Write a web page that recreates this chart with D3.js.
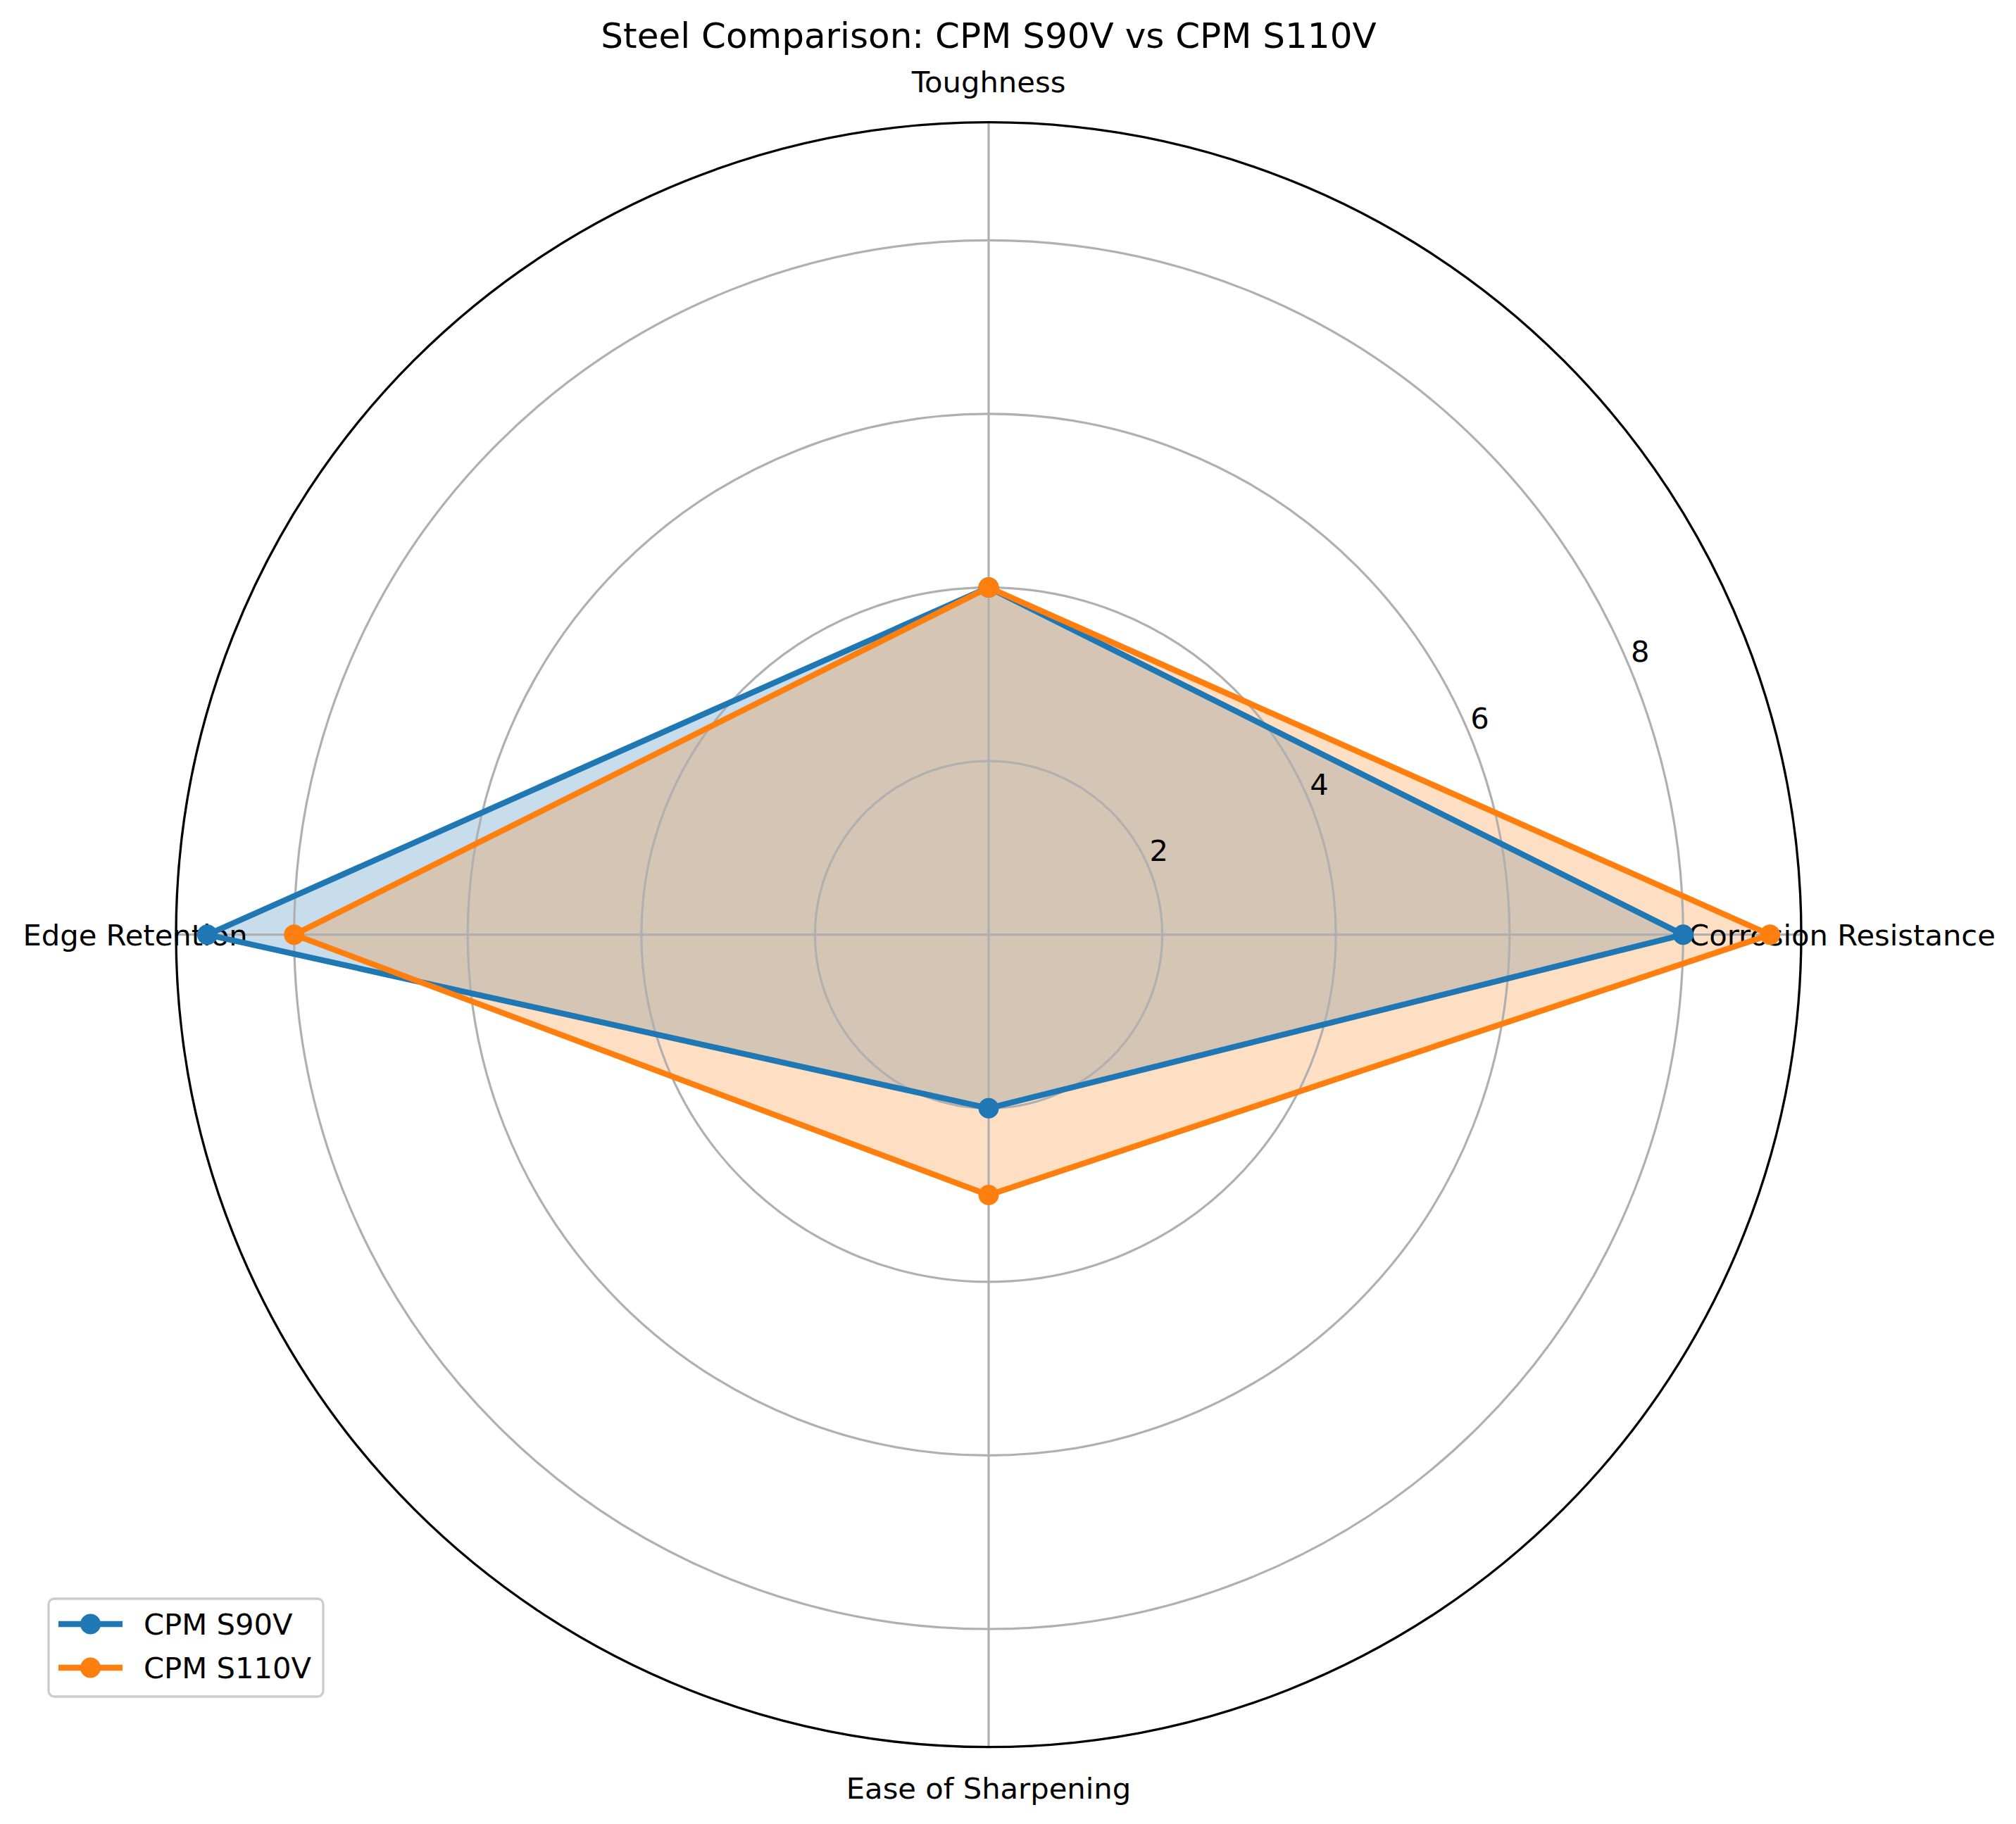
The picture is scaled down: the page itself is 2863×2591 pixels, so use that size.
<!DOCTYPE html>
<html>
<head>
<meta charset="utf-8">
<script src="https://cdn.jsdelivr.net/npm/d3@7"></script>
<style>
  body { margin: 0; background: #fff; }
  text { font-family: "DejaVu Sans", sans-serif; }
</style>
</head>
<body>
<div id="chart"></div>
<script>
(function(){
const categories = ["Toughness", "Corrosion Resistance", "Ease of Sharpening", "Edge Retention"];
const seriesNames = ["CPM S90V", "CPM S110V"];
const s90v = [4, 8, 2, 9];
const s110v = [4, 9, 3, 8];
const radialTicks = [2, 4, 6, 8];
const colors = ["#1f77b4", "#ff7f0e"];

const width = 2863;
const height = 2591;
const cx = 1404, cy = 1327.7;
const outerR = 1154;

const svg = d3.select("#chart")
  .append("svg")
  .attr("width", width)
  .attr("height", height);

// radial scale, matplotlib autoscale gives ~9.36 as the top
const r = d3.scaleLinear().domain([0, 9.36]).range([0, outerR]);
const angle = d3.scaleLinear().domain([0, categories.length]).range([0, 2 * Math.PI]);

const g = svg.append("g").attr("transform", `translate(${cx},${cy})`);

const line = d3.lineRadial()
  .angle((d, i) => angle(i))
  .radius(d => r(d))
  .curve(d3.curveLinearClosed);

const series = [s90v, s110v];

// fills go underneath everything
series.forEach((vals, k) => {
  g.append("path")
    .attr("d", line(vals))
    .attr("fill", colors[k])
    .attr("fill-opacity", 0.25)
    .attr("stroke", "none");
});

// grid circles
g.selectAll(".ring")
  .data(radialTicks)
  .enter().append("circle")
  .attr("r", d => r(d))
  .attr("fill", "none")
  .attr("stroke", "#b0b0b0")
  .attr("stroke-width", 3.2);

// spokes
g.selectAll(".spoke")
  .data(categories)
  .enter().append("line")
  .attr("x1", 0).attr("y1", 0)
  .attr("x2", (d, i) => outerR * Math.sin(angle(i)))
  .attr("y2", (d, i) => -outerR * Math.cos(angle(i)))
  .attr("stroke", "#b0b0b0")
  .attr("stroke-width", 3.2);

// outer frame
g.append("circle")
  .attr("r", outerR)
  .attr("fill", "none")
  .attr("stroke", "#000")
  .attr("stroke-width", 3.3);

// radial tick labels at 22.5 deg
const la = 22.5 * Math.PI / 180;
g.selectAll(".rlabel")
  .data(radialTicks)
  .enter().append("text")
  .attr("x", d => r(d) * Math.cos(la) + 14)
  .attr("y", d => -r(d) * Math.sin(la) - 25)
  .attr("dy", "0.36em")
  .attr("text-anchor", "middle")
  .attr("font-size", 41.7)
  .text(d => d);

// category labels
const labelR = 1212;
g.selectAll(".cat")
  .data(categories)
  .enter().append("text")
  .attr("x", (d, i) => labelR * Math.sin(angle(i)))
  .attr("y", (d, i) => -labelR * Math.cos(angle(i)))
  .attr("dy", "0.36em")
  .attr("text-anchor", "middle")
  .attr("font-size", 41.7)
  .text(d => d);

// lines and markers on top
series.forEach((vals, k) => {
  g.append("path")
    .attr("d", line(vals))
    .attr("fill", "none")
    .attr("stroke", colors[k])
    .attr("stroke-width", 8.3)
    .attr("stroke-linejoin", "round");

  g.selectAll(".pt" + k)
    .data(vals)
    .enter().append("circle")
    .attr("cx", (d, i) => r(d) * Math.sin(angle(i)))
    .attr("cy", (d, i) => -r(d) * Math.cos(angle(i)))
    .attr("r", 14.5)
    .attr("fill", colors[k]);
});

// title
svg.append("text")
  .attr("x", cx)
  .attr("y", 68)
  .attr("text-anchor", "middle")
  .attr("font-size", 50)
  .text("Steel Comparison: CPM S90V vs CPM S110V");

// legend
const legend = svg.append("g");
legend.append("rect")
  .attr("x", 69).attr("y", 2271)
  .attr("width", 390).attr("height", 139)
  .attr("rx", 8)
  .attr("fill", "#fff")
  .attr("fill-opacity", 0.8)
  .attr("stroke", "#cccccc")
  .attr("stroke-width", 3.3);

const items = legend.selectAll(".item")
  .data(seriesNames)
  .enter().append("g")
  .attr("transform", (d, i) => `translate(0,${2307 + i * 62})`);

items.append("line")
  .attr("x1", 83).attr("x2", 174)
  .attr("y1", 0).attr("y2", 0)
  .attr("stroke", (d, i) => colors[i])
  .attr("stroke-width", 8.3);
items.append("circle")
  .attr("cx", 128.5).attr("cy", 0)
  .attr("r", 14.5)
  .attr("fill", (d, i) => colors[i]);
items.append("text")
  .attr("x", 204)
  .attr("y", 15)
  .attr("font-size", 41.7)
  .text(d => d);
})();
</script>
</body>
</html>
